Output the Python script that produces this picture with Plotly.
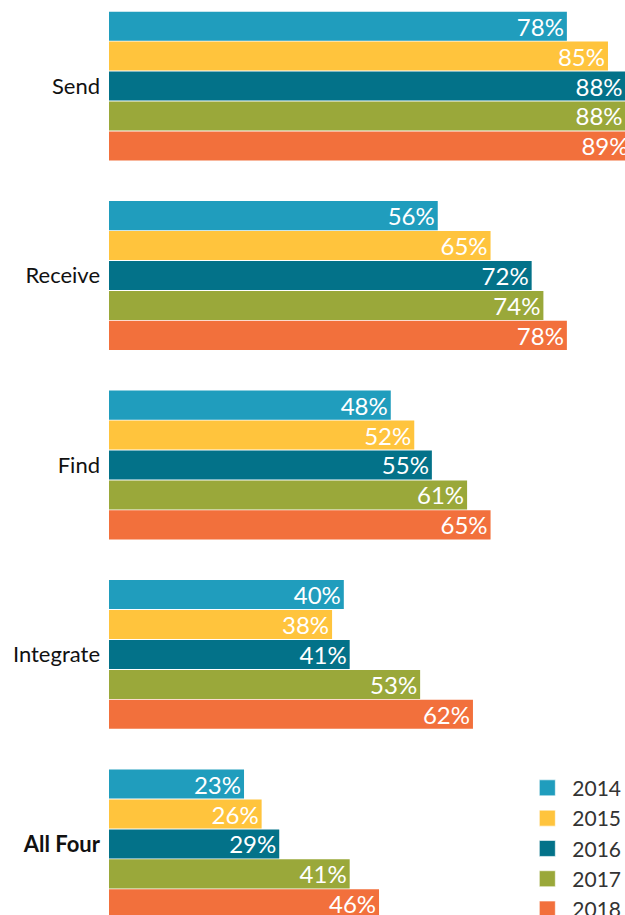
import plotly.graph_objects as go

categories = ["Send", "Receive", "Find", "Integrate", "All Four"]
category_labels = ["Send", "Receive", "Find", "Integrate", "<b>All Four</b>"]
years = ["2014", "2015", "2016", "2017", "2018"]
values = {
    "2014": [78, 56, 48, 40, 23],
    "2015": [85, 65, 52, 38, 26],
    "2016": [88, 72, 55, 41, 29],
    "2017": [88, 74, 61, 53, 41],
    "2018": [89, 78, 65, 62, 46],
}
colors = {
    "2014": "#209DBD",
    "2015": "#FFC43D",
    "2016": "#037289",
    "2017": "#9AA83A",
    "2018": "#F2703C",
}

FONT = "Lato, 'Open Sans', sans-serif"

fig = go.Figure()
for yr in years:
    fig.add_trace(go.Bar(
        y=categories, x=values[yr], orientation="h", name=yr,
        marker=dict(color=colors[yr], line=dict(width=0)),
        text=[f"{v}%" for v in values[yr]], textposition="inside",
        insidetextanchor="end", constraintext="none",
        textfont=dict(color="white", size=24, family=FONT),
        showlegend=False, hoverinfo="skip",
    ))
for yr in years:
    fig.add_trace(go.Scatter(
        x=[None], y=[None], mode="markers", name=yr, legendgroup=yr,
        marker=dict(symbol="square", size=16, color=colors[yr],
                    line=dict(width=1, color="rgba(255,255,255,0.6)")),
        showlegend=True,
    ))

fig.update_layout(
    width=625, height=915,
    margin=dict(l=109, r=0, t=0, b=0, autoexpand=False),
    paper_bgcolor="white", plot_bgcolor="white",
    barmode="group", bargap=0.21, bargroupgap=0.03,
    font=dict(family=FONT, color="#111111"),
    legend=dict(x=0.801, y=0.161, xanchor="left", yanchor="top",
                font=dict(size=21, color="#333333", family=FONT),
                tracegroupgap=0, bgcolor="rgba(0,0,0,0)",
                itemsizing="trace", itemwidth=40),
    xaxis=dict(range=[0, 87.9], visible=False, fixedrange=True),
    yaxis=dict(
        type="category", categoryorder="array", categoryarray=categories,
        tickvals=categories, ticktext=category_labels,
        range=[4.375, -0.454], showgrid=False, zeroline=False,
        showline=False, ticks="", ticklabelstandoff=8, automargin=False,
        fixedrange=True,
        tickfont=dict(size=22, color="#111111", family=FONT),
    ),
)

fig.write_html(
    "out.html",
    config={"displayModeBar": False},
    post_script="document.body.style.margin='0';document.body.style.overflow='hidden';",
)
